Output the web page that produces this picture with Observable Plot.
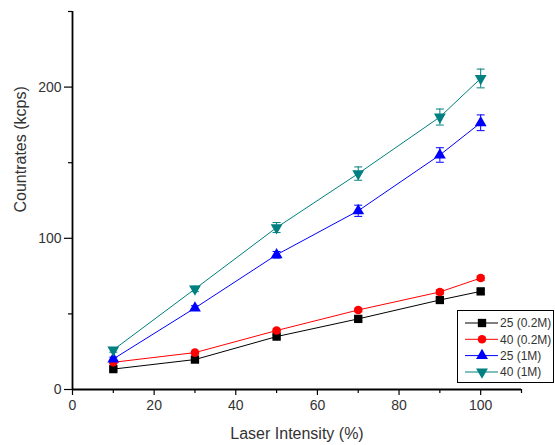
<!DOCTYPE html>
<html>
<head>
<meta charset="utf-8">
<script src="https://cdn.jsdelivr.net/npm/d3@7"></script>
<script src="https://cdn.jsdelivr.net/npm/@observablehq/plot@0.6"></script>
<style>
  html, body { margin: 0; padding: 0; background: #fff; }
  #wrap { position: relative; width: 555px; height: 445px; font-family: "Liberation Sans", Arial, sans-serif; }
  #legend { position: absolute; background: #fff; border: 1px solid #000; box-sizing: border-box; }
</style>
</head>
<body>
<div id="wrap"></div>
<script>
// ---- data ----
const intensity = [10, 30, 50, 70, 90, 100];
const seriesNames = ["25 (0.2M)", "40 (0.2M)", "25 (1M)", "40 (1M)"];
const seriesColors = ["#000000", "#ff0000", "#0000ff", "#008080"];
const seriesSymbols = ["square", "circle", "triangle", "triangle-down"];
const s25_02 = [13.5, 19.8, 35.0, 46.7, 59.2, 64.9];
const s40_02 = [18.0, 24.4, 39.0, 52.6, 64.5, 73.7];
const s25_1 = [20.2, 53.9, 89.1, 118.2, 155.1, 176.4];
const s40_1 = [26.2, 66.5, 107.1, 142.8, 180.2, 205.7];
const e25_02 = [0.8, 0.8, 1.0, 1.2, 1.5, 1.5];
const e40_02 = [0.8, 0.8, 1.0, 1.2, 1.5, 1.5];
const e25_1 = [1.2, 1.5, 2.2, 3.7, 4.8, 5.2];
const e40_1 = [1.5, 1.8, 3.3, 4.4, 5.3, 6.2];
const xMajorTicks = [0, 20, 40, 60, 80, 100];
const xMinorTicks = [10, 30, 50, 70, 90, 110];
const yMajorTicks = [0, 100, 200];
const yMinorTicks = [50, 150, 250];
const xTitle = "Laser Intensity (%)";
const yTitle = "Countrates (kcps)";

const values = [s25_02, s40_02, s25_1, s40_1];
const errors = [e25_02, e40_02, e25_1, e40_1];
const data = [];
values.forEach((vals, si) => vals.forEach((v, i) => data.push({
  series: seriesNames[si], x: intensity[i], y: v, err: errors[si][i], si
})));

const capSymbol = { draw(ctx, size) { const r = Math.sqrt(size) * 0.75; ctx.moveTo(-r, 0); ctx.lineTo(r, 0); } };

const marks = [];
seriesNames.forEach((name, si) => {
  const d = data.filter(p => p.si === si);
  const c = seriesColors[si];
  marks.push(Plot.line(d, { x: "x", y: "y", stroke: c, strokeWidth: 1 }));
  marks.push(Plot.ruleX(d, { x: "x", y1: p => p.y - p.err, y2: p => p.y + p.err, stroke: c, strokeWidth: 1 }));
  marks.push(Plot.dot(d, { x: "x", y: p => p.y - p.err, symbol: capSymbol, r: 3, stroke: c, strokeWidth: 1 }));
  marks.push(Plot.dot(d, { x: "x", y: p => p.y + p.err, symbol: capSymbol, r: 3, stroke: c, strokeWidth: 1 }));
  const sym = seriesSymbols[si];
  const isDown = sym === "triangle-down";
  marks.push(Plot.dot(d, {
    x: "x", y: "y",
    symbol: isDown ? "triangle" : sym,
    rotate: isDown ? 180 : 0,
    r: sym === "square" ? 4.7 : sym === "circle" ? 4.3 : 4.4,
    fill: c, stroke: "none"
  }));
});

const chart = Plot.plot({
  width: 555,
  height: 445,
  marginLeft: 72,
  marginRight: 34,
  marginTop: 11,
  marginBottom: 56,
  x: { domain: [0, 110] },
  y: { domain: [0, 250] },
  style: { fontFamily: "'Liberation Sans', Arial, sans-serif", fontSize: "14px", color: "#333", background: "#fff" },
  marks: [
    Plot.axisX({ ticks: xMajorTicks, tickSize: 6, tickPadding: 5, stroke: "#000", strokeWidth: 1.2, label: null, fontSize: 14 }),
    Plot.axisX({ ticks: xMinorTicks, tickSize: 4, tickFormat: () => "", stroke: "#000", strokeWidth: 1.2, label: null }),
    Plot.axisY({ ticks: yMajorTicks, tickSize: 8, tickPadding: 3, stroke: "#000", strokeWidth: 1.2, label: null, fontSize: 14 }),
    Plot.axisY({ ticks: yMinorTicks, tickSize: 4, tickFormat: () => "", stroke: "#000", strokeWidth: 1.2, label: null }),
    Plot.ruleY([0], { stroke: "#000", strokeWidth: 1.8 }),
    Plot.ruleX([0], { stroke: "#000", strokeWidth: 1.8 }),
    Plot.text([xTitle], { frameAnchor: "bottom", dy: 49, lineAnchor: "bottom", fontSize: 16, fill: "#333" }),
    Plot.text([yTitle], { frameAnchor: "left", dx: -52, dy: 12, rotate: -90, fontSize: 16, fill: "#333" }),
    ...marks
  ]
});

const wrap = document.getElementById("wrap");
wrap.appendChild(chart);

// ---- legend ----
const lg = document.createElement("div");
lg.id = "legend";
Object.assign(lg.style, { left: "457px", top: "310px", width: "97px", height: "73px" });
const W = 97, H = 73;
const svg = d3.create("svg").attr("width", W).attr("height", H).style("display", "block");
const rowY = [13, 29.3, 45.6, 62];
seriesNames.forEach((name, i) => {
  const g = svg.append("g").attr("transform", `translate(0,${rowY[i] - 1})`);
  g.append("line").attr("x1", 7).attr("x2", 40).attr("y1", 0).attr("y2", 0)
    .attr("stroke", seriesColors[i]).attr("stroke-width", 1);
  const sym = seriesSymbols[i];
  const type = sym === "square" ? d3.symbolSquare : sym === "circle" ? d3.symbolCircle : d3.symbolTriangle;
  const rr = sym === "square" ? 4.7 : sym === "circle" ? 4.3 : 4.4;
  g.append("path").attr("d", d3.symbol(type, rr * rr * Math.PI)())
    .attr("transform", `translate(24,0) rotate(${sym === "triangle-down" ? 180 : 0})`)
    .attr("fill", seriesColors[i]);
  g.append("text").attr("x", 42).attr("y", 0).attr("dy", "0.35em")
    .attr("font-size", 12).attr("fill", "#333")
    .attr("font-family", "'Liberation Sans', Arial, sans-serif").text(name);
});
lg.appendChild(svg.node());
wrap.appendChild(lg);
</script>
</body>
</html>
